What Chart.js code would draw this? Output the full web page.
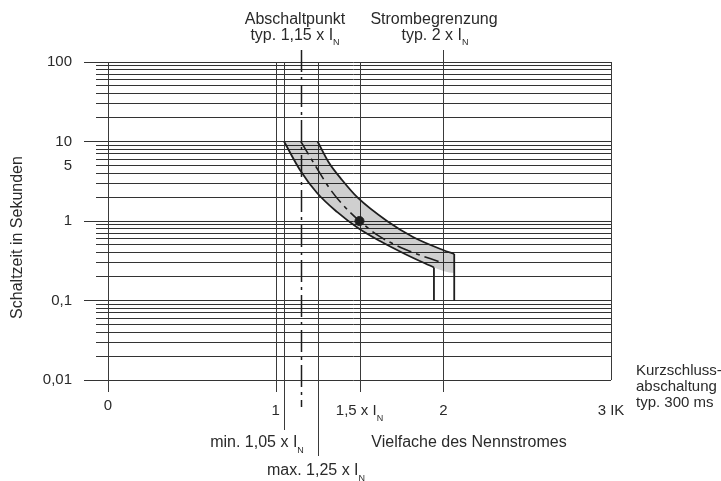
<!DOCTYPE html>
<html>
<head>
<meta charset="utf-8">
<title>Auslösekennlinie</title>
<script src="https://cdn.jsdelivr.net/npm/chart.js@4/dist/chart.umd.min.js"></script>
<style>
  html, body { margin: 0; padding: 0; background: #fff; }
</style>
</head>
<body>
<canvas id="chart" width="721" height="481"></canvas>
<script>
// Axis ticks
const yTickValues = [100, 10, 5, 1, 0.1, 0.01];
const yTickLabels = ['100', '10', '5', '1', '0,1', '0,01'];
const xTickValues = [0, 1, 1.5, 2, 3];
const xTickLabels = ['0', '1', '1,5 x I_N', '2', '3 IK'];

// Vertical reference lines (multiples of I_N)
const markerValues = [0, 1, 1.05, 1.15, 1.25, 1.5, 2, 3];

// Tripping characteristic: x = multiple of I_N, y = seconds
const lowerX = [1.05, 1.145, 1.247, 1.366, 1.491, 1.622, 1.771, 1.944];
const lowerY = [10, 4.38, 2.25, 1.30, 0.817, 0.56, 0.385, 0.26];
const upperX = [1.25, 1.314, 1.396, 1.491, 1.664, 1.819, 1.998, 2.065];
const upperY = [10, 5.57, 3.28, 1.95, 1.0, 0.629, 0.432, 0.385];
const typicalX = [1.15, 1.245, 1.324, 1.396, 1.5, 1.622, 1.782, 1.99];
const typicalY = [10, 4.64, 2.53, 1.64, 1.0, 0.635, 0.432, 0.30];
const dropY = 0.1;         // both curves fall straight down to 0,1 s
const bandCornerY = 0.222; // lower right corner of the grey band
const tripPoint = { x: 1.5, y: 1 };

const FONT = "'Liberation Sans', Arial, Helvetica, sans-serif";
const INK = '#1e1e1e';
const TEXT = '#2a2a2a';

const pts = (xs, ys) => xs.map((x, i) => ({ x, y: ys[i] }));
const last = a => a[a.length - 1];

const bandPoints = [
  ...pts(upperX, upperY),
  { x: last(upperX), y: bandCornerY },
  ...pts(lowerX, lowerY).reverse()
];

// all log grid values 0,01 ... 100
const gridValues = [];
[0.01, 0.1, 1, 10].forEach(d => {
  for (let m = 1; m <= 9; m++) gridValues.push(+(m * d).toPrecision(6));
});
gridValues.push(100);

const isDecade = v => Math.abs(Math.log10(v) - Math.round(Math.log10(v))) < 1e-9;

function drawLabel(ctx, text, x, y, size, align) {
  const [main, sub] = text.split('_');
  const subSize = 9;
  ctx.font = `${size}px ${FONT}`;
  const wMain = ctx.measureText(main).width;
  let wSub = 0;
  if (sub) {
    ctx.font = `${subSize}px ${FONT}`;
    wSub = ctx.measureText(sub).width;
  }
  let left = x;
  if (align === 'center') left = x - (wMain + wSub) / 2;
  if (align === 'right') left = x - wMain - wSub;
  ctx.textAlign = 'left';
  ctx.textBaseline = 'alphabetic';
  ctx.fillStyle = TEXT;
  ctx.font = `${size}px ${FONT}`;
  ctx.fillText(main, left, y);
  if (sub) {
    ctx.font = `${subSize}px ${FONT}`;
    ctx.fillText(sub, left + wMain, y + 5.5);
  }
}

// extents beyond the plot area [above, below] in px
const markerExtents = {
  '0': [0, 12], '1': [0, 12], '1.05': [0, 50], '1.15': [12, 27],
  '1.25': [0, 76], '1.5': [0, 12], '2': [12, 12], '3': [0, 0]
};

const markerLines = {
  id: 'markerLines',
  beforeDatasetsDraw(chart) {
    const { ctx, chartArea, scales } = chart;
    ctx.save();
    markerValues.forEach(v => {
      const [up, down] = markerExtents[String(v)];
      const x = Math.round(scales.x.getPixelForValue(v)) + 0.5;
      ctx.beginPath();
      if (v === 1.15) {
        ctx.setLineDash([22, 5, 3, 5]);
        ctx.lineWidth = 1.5;
        ctx.strokeStyle = INK;
      } else {
        ctx.setLineDash([]);
        ctx.lineWidth = 1;
        ctx.strokeStyle = '#3a3a3a';
      }
      ctx.moveTo(x, chartArea.top - up);
      ctx.lineTo(x, chartArea.bottom + down);
      ctx.stroke();
    });
    ctx.restore();
  }
};

const annotations = {
  id: 'annotations',
  afterDraw(chart) {
    const { ctx, scales } = chart;
    ctx.save();
    xTickValues.forEach((v, i) => {
      const y = v === 0 ? 410 : 415;
      drawLabel(ctx, xTickLabels[i], scales.x.getPixelForValue(v), y, 15, 'center');
    });
    drawLabel(ctx, 'Abschaltpunkt', 295, 24, 16, 'center');
    drawLabel(ctx, 'typ. 1,15 x I_N', 295, 39.5, 16, 'center');
    drawLabel(ctx, 'Strombegrenzung', 434, 23.5, 16, 'center');
    drawLabel(ctx, 'typ. 2 x I_N', 435, 39.5, 16, 'center');
    drawLabel(ctx, 'min. 1,05 x I_N', 257, 447, 16, 'center');
    drawLabel(ctx, 'max. 1,25 x I_N', 316, 475, 16, 'center');
    drawLabel(ctx, 'Vielfache des Nennstromes', 469, 446.5, 16, 'center');
    drawLabel(ctx, 'Kurzschluss-', 636, 375, 15, 'left');
    drawLabel(ctx, 'abschaltung', 636, 391, 15, 'left');
    drawLabel(ctx, 'typ. 300 ms', 636, 407, 15, 'left');

    // y axis title
    ctx.translate(17.5, 237.5);
    ctx.rotate(-Math.PI / 2);
    ctx.font = `16px ${FONT}`;
    ctx.fillStyle = TEXT;
    ctx.textAlign = 'center';
    ctx.textBaseline = 'middle';
    ctx.fillText('Schaltzeit in Sekunden', 0, 0);
    ctx.restore();
  }
};

const curveStyle = {
  showLine: true,
  borderColor: INK,
  borderWidth: 1.8,
  pointRadius: 0,
  cubicInterpolationMode: 'monotone',
  fill: false
};

new Chart(document.getElementById('chart'), {
  type: 'scatter',
  data: {
    datasets: [
      { data: [tripPoint], pointRadius: 4.5, backgroundColor: INK, borderColor: INK },
      { ...curveStyle, data: pts(typicalX, typicalY), borderWidth: 1.6, borderDash: [15, 5, 4, 5] },
      { ...curveStyle, data: pts(lowerX, lowerY) },
      { ...curveStyle, data: pts(upperX, upperY) },
      { ...curveStyle, cubicInterpolationMode: 'default', tension: 0,
        data: [{ x: last(lowerX), y: last(lowerY) }, { x: last(lowerX), y: dropY }] },
      { ...curveStyle, cubicInterpolationMode: 'default', tension: 0,
        data: [{ x: last(upperX), y: last(upperY) }, { x: last(upperX), y: dropY }] },
      {
        data: bandPoints, showLine: true, fill: 'shape', cubicInterpolationMode: 'monotone',
        backgroundColor: 'rgba(0,0,0,0.19)', borderWidth: 0, pointRadius: 0
      }
    ]
  },
  options: {
    responsive: false,
    animation: false,
    devicePixelRatio: 1,
    layout: { padding: { left: 0, top: 62, right: 110, bottom: 101 } },
    plugins: { legend: { display: false }, tooltip: { enabled: false } },
    scales: {
      x: {
        type: 'linear',
        min: -0.0716,
        max: 3,
        display: false
      },
      y: {
        type: 'logarithmic',
        min: 0.01,
        max: 100,
        afterFit: scale => { scale.width = 96; },
        afterBuildTicks: scale => {
          scale.ticks = gridValues.map(v => ({ value: v }));
        },
        border: { display: false },
        grid: {
          color: '#333',
          lineWidth: 1,
          tickLength: 12,
          tickColor: ctx => (ctx.tick && isDecade(ctx.tick.value)) ? '#333' : 'rgba(0,0,0,0)'
        },
        ticks: {
          autoSkip: false,
          padding: 12,
          color: TEXT,
          font: { family: FONT, size: 15 },
          callback: value => {
            const i = yTickValues.findIndex(t => Math.abs(t - value) < 1e-9);
            return i >= 0 ? yTickLabels[i] : '';
          }
        }
      }
    }
  },
  plugins: [markerLines, annotations]
});
</script>
</body>
</html>
